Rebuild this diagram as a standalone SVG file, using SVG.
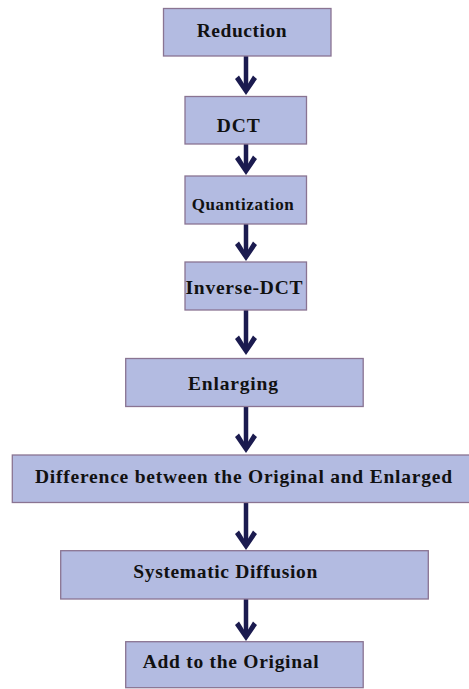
<svg xmlns="http://www.w3.org/2000/svg" xmlns:xlink="http://www.w3.org/1999/xlink" width="469" height="689" viewBox="0 0 469 689">
<style>
.box{fill:#b3bbe1;stroke:#8a7492;stroke-width:1.3}
.lbl{font-family:"Liberation Serif","Times New Roman",serif;font-weight:bold;fill:#111;font-size:19.5px}
.shaft{stroke:#1b1b4f;stroke-width:4.5;fill:none}
.head{fill:#1b1b4f}
</style>
<defs>
<path id="head" class="head" d="M-11,-16 L-7,-19.5 L0,-8 L7,-19.5 L11,-16 L0,0 Z"/>
</defs>
<rect width="469" height="689" fill="#fff"/>
<g id="connectors">
<line class="shaft" x1="246" y1="56" x2="246" y2="91"/><use xlink:href="#head" x="246" y="95"/>
<line class="shaft" x1="246" y1="144" x2="246" y2="171"/><use xlink:href="#head" x="246" y="175"/>
<line class="shaft" x1="246" y1="224" x2="246" y2="257"/><use xlink:href="#head" x="246" y="261"/>
<line class="shaft" x1="246" y1="310" x2="246" y2="351"/><use xlink:href="#head" x="246" y="355"/>
<line class="shaft" x1="246" y1="407" x2="246" y2="449"/><use xlink:href="#head" x="246" y="453"/>
<line class="shaft" x1="246" y1="503" x2="246" y2="546"/><use xlink:href="#head" x="246" y="550"/>
<line class="shaft" x1="246" y1="599" x2="246" y2="637"/><use xlink:href="#head" x="246" y="641"/>
</g>
<g id="n1"><rect class="box" x="163.5" y="8.5" width="167.5" height="47.5"/><text class="lbl" x="196.7" y="37" textLength="90" lengthAdjust="spacing">Reduction</text></g>
<g id="n2"><rect class="box" x="185" y="96.5" width="121.5" height="47.5"/><text class="lbl" x="216.7" y="131.5" textLength="43" lengthAdjust="spacing">DCT</text></g>
<g id="n3"><rect class="box" x="185" y="176" width="121.5" height="48"/><text class="lbl" x="191.7" y="209.5" style="font-size:17px" textLength="102" lengthAdjust="spacing">Quantization</text></g>
<g id="n4"><rect class="box" x="185" y="262" width="121.5" height="48"/><text class="lbl" x="185.5" y="294" textLength="117" lengthAdjust="spacing">Inverse-DCT</text></g>
<g id="n5"><rect class="box" x="125.7" y="358.5" width="237.5" height="48"/><text class="lbl" x="188" y="390" textLength="90" lengthAdjust="spacing">Enlarging</text></g>
<g id="n6"><rect class="box" x="12.3" y="455" width="460" height="47.5"/><text class="lbl" x="35" y="482.5" textLength="417" lengthAdjust="spacing">Difference between the Original and Enlarged</text></g>
<g id="n7"><rect class="box" x="60.7" y="550.7" width="367.6" height="48.3"/><text class="lbl" x="133.3" y="578.3" textLength="184" lengthAdjust="spacing">Systematic Diffusion</text></g>
<g id="n8"><rect class="box" x="125.7" y="641.7" width="237.5" height="46"/><text class="lbl" x="142.7" y="668.3" textLength="176" lengthAdjust="spacing">Add to the Original</text></g>
</svg>
